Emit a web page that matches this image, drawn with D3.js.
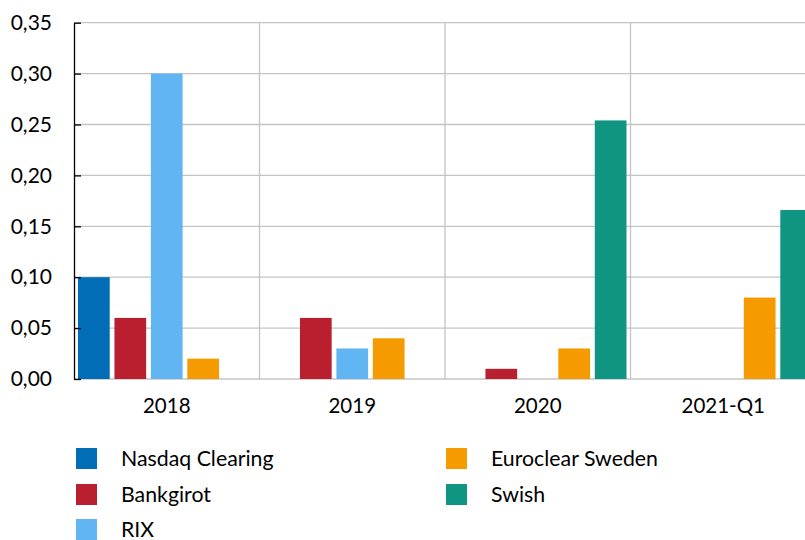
<!DOCTYPE html>
<html>
<head>
<meta charset="utf-8">
<script src="https://cdn.jsdelivr.net/npm/d3@7"></script>
<style>
  html, body { margin: 0; padding: 0; background: #fff; }
  svg { display: block; font-family: Lato, "Open Sans", sans-serif; }
</style>
</head>
<body>
<svg id="chart" width="805" height="540"></svg>
<script>
const categories = ["2018", "2019", "2020", "2021-Q1"];
const seriesNames = ["Nasdaq Clearing", "Bankgirot", "RIX", "Euroclear Sweden", "Swish"];
const nasdaqClearing = [0.10, 0, 0, 0];
const bankgirot = [0.06, 0.06, 0.01, 0];
const rix = [0.30, 0.03, 0, 0];
const euroclearSweden = [0.02, 0.04, 0.03, 0.08];
const swish = [0, 0, 0.254, 0.166];
const yTicks = [0, 0.05, 0.10, 0.15, 0.20, 0.25, 0.30, 0.35];
const colors = ["#006db6", "#b91f2e", "#62b5f3", "#f59b00", "#109583"];

const seriesValues = [nasdaqClearing, bankgirot, rix, euroclearSweden, swish];

const svg = d3.select("#chart");
const plotLeft = 74, plotTop = 22.7, plotBottom = 379, bandW = 185.5;

const x0 = d3.scaleBand().domain(categories).range([plotLeft, plotLeft + bandW * categories.length]).padding(0);
const x1 = d3.scaleBand().domain(seriesNames).range([0, x0.bandwidth()]).paddingInner(0.13).paddingOuter(0.11);
const y = d3.scaleLinear().domain([0, 0.35]).range([plotBottom, plotTop]);

const fmt = v => d3.format(".2f")(v).replace(".", ",");

// horizontal gridlines
svg.append("g").selectAll("line").data(yTicks).join("line")
  .attr("x1", plotLeft).attr("x2", 805)
  .attr("y1", d => y(d)).attr("y2", d => y(d))
  .attr("stroke", "#c4c4c4").attr("stroke-width", 1.3);

// vertical gridlines at category boundaries
svg.append("g").selectAll("line").data(categories.slice(1)).join("line")
  .attr("x1", d => x0(d)).attr("x2", d => x0(d))
  .attr("y1", plotTop).attr("y2", plotBottom)
  .attr("stroke", "#c4c4c4").attr("stroke-width", 1.3);

// bars
const groups = svg.append("g").selectAll("g").data(categories).join("g")
  .attr("transform", d => `translate(${x0(d)},0)`);
groups.selectAll("rect")
  .data((c, ci) => seriesNames.map((s, si) => ({ s, si, v: seriesValues[si][ci] })))
  .join("rect")
  .attr("x", d => x1(d.s))
  .attr("width", x1.bandwidth())
  .attr("y", d => y(d.v))
  .attr("height", d => y(0) - y(d.v))
  .attr("fill", d => colors[d.si]);

// y axis
const yAxis = d3.axisLeft(y).tickValues(yTicks).tickFormat(fmt).tickSizeInner(-7).tickSizeOuter(0).tickPadding(22);
const ya = svg.append("g").attr("transform", `translate(${plotLeft},0)`).call(yAxis);
ya.select(".domain").attr("stroke", "#000").attr("stroke-width", 1.3);
ya.selectAll(".tick line").attr("stroke", "#000").attr("stroke-width", 1.3);
ya.selectAll("text").attr("font-size", 21).attr("fill", "#000").attr("font-family", "Lato");

// x axis labels
const xAxis = d3.axisBottom(x0).tickSize(0).tickPadding(19);
const xa = svg.append("g").attr("transform", `translate(0,${plotBottom})`).call(xAxis);
xa.select(".domain").remove();
xa.selectAll("text").attr("font-size", 20.5).attr("fill", "#000").attr("font-family", "Lato");

// legend
const legendPos = [
  { x: 76, y: 448 }, { x: 76, y: 484 }, { x: 76, y: 519 },
  { x: 446, y: 448 }, { x: 446, y: 484 }
];
const legend = svg.append("g").selectAll("g").data(seriesNames).join("g")
  .attr("transform", (d, i) => `translate(${legendPos[i].x},${legendPos[i].y})`);
legend.append("rect").attr("width", 21).attr("height", 21).attr("fill", (d, i) => colors[i]);
legend.append("text").attr("x", 45).attr("y", 17.5)
  .attr("font-size", 21.3).attr("fill", "#000").text(d => d);
</script>
</body>
</html>
